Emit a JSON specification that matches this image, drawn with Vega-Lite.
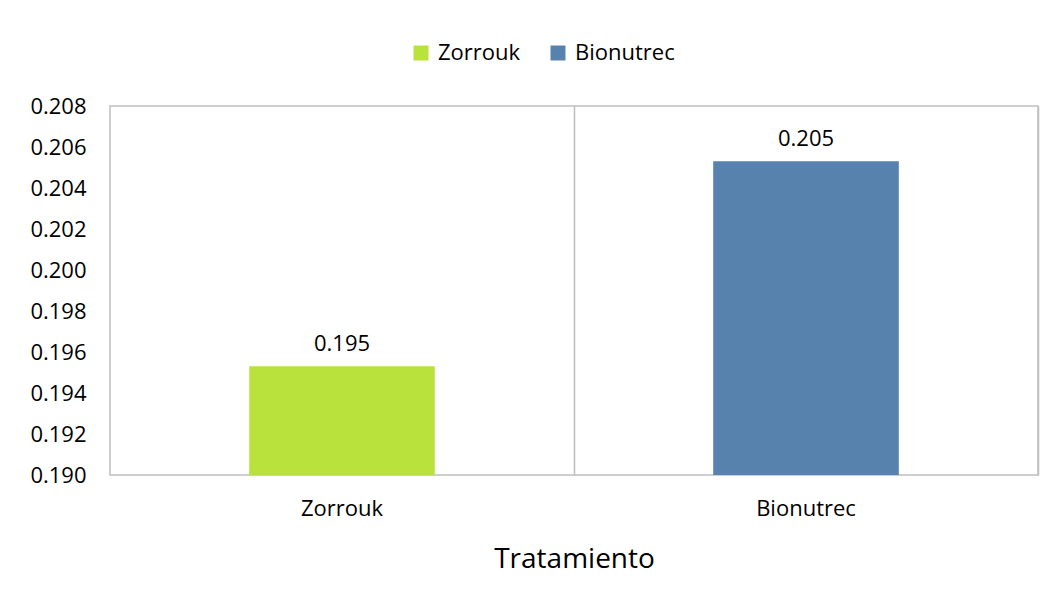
{
  "$schema": "https://vega.github.io/schema/vega-lite/v6.json",
  "width": 928,
  "height": 369,
  "autosize": "none",
  "padding": {"left": 110, "top": 106, "right": 15, "bottom": 126},
  "background": "white",
  "config": {
    "font": "Open Sans",
    "view": {"stroke": "#BFBFBF", "strokeWidth": 1.5}
  },
  "data": {
    "values": [
      {"Tratamiento": "Zorrouk", "valor": 0.1953, "etiqueta": "0.195"},
      {"Tratamiento": "Bionutrec", "valor": 0.2053, "etiqueta": "0.205"}
    ]
  },
  "encoding": {
    "x": {
      "field": "Tratamiento",
      "type": "nominal",
      "sort": ["Zorrouk", "Bionutrec"],
      "scale": {"paddingInner": 0.6, "paddingOuter": 0.3},
      "axis": {
        "title": "Tratamiento",
        "titleFontSize": 28,
        "titleFontWeight": "normal",
        "titleColor": "#000000",
        "titlePadding": 26,
        "labelAngle": 0,
        "labelFontSize": 22,
        "labelColor": "#000000",
        "labelPadding": 23,
        "ticks": false,
        "domain": false,
        "grid": true,
        "bandPosition": 1.75,
        "gridColor": "#BFBFBF",
        "gridWidth": 1.5
      }
    },
    "y": {
      "field": "valor",
      "type": "quantitative",
      "scale": {"domain": [0.19, 0.208], "zero": false, "nice": false},
      "axis": {
        "title": null,
        "values": [0.19, 0.192, 0.194, 0.196, 0.198, 0.2, 0.202, 0.204, 0.206, 0.208],
        "format": ".3f",
        "labelFontSize": 22,
        "labelColor": "#000000",
        "labelPadding": 24,
        "ticks": false,
        "domain": false,
        "grid": false
      }
    }
  },
  "layer": [
    {
      "mark": {"type": "bar"},
      "encoding": {
        "y2": {"datum": 0.19},
        "color": {
          "field": "Tratamiento",
          "type": "nominal",
          "sort": ["Zorrouk", "Bionutrec"],
          "scale": {"domain": ["Zorrouk", "Bionutrec"], "range": ["#BAE23D", "#5882AE"]},
          "legend": {
            "title": null,
            "orient": "none",
            "direction": "horizontal",
            "legendX": 300,
            "legendY": -64,
            "symbolType": "square",
            "symbolSize": 225,
            "symbolStrokeWidth": 0,
            "labelFontSize": 22,
            "labelColor": "#000000",
            "labelOffset": 6,
            "columnPadding": 26
          }
        }
      }
    },
    {
      "mark": {"type": "text", "dy": -15, "baseline": "alphabetic", "fontSize": 22, "color": "#000000"},
      "encoding": {
        "text": {"field": "etiqueta"}
      }
    }
  ]
}
